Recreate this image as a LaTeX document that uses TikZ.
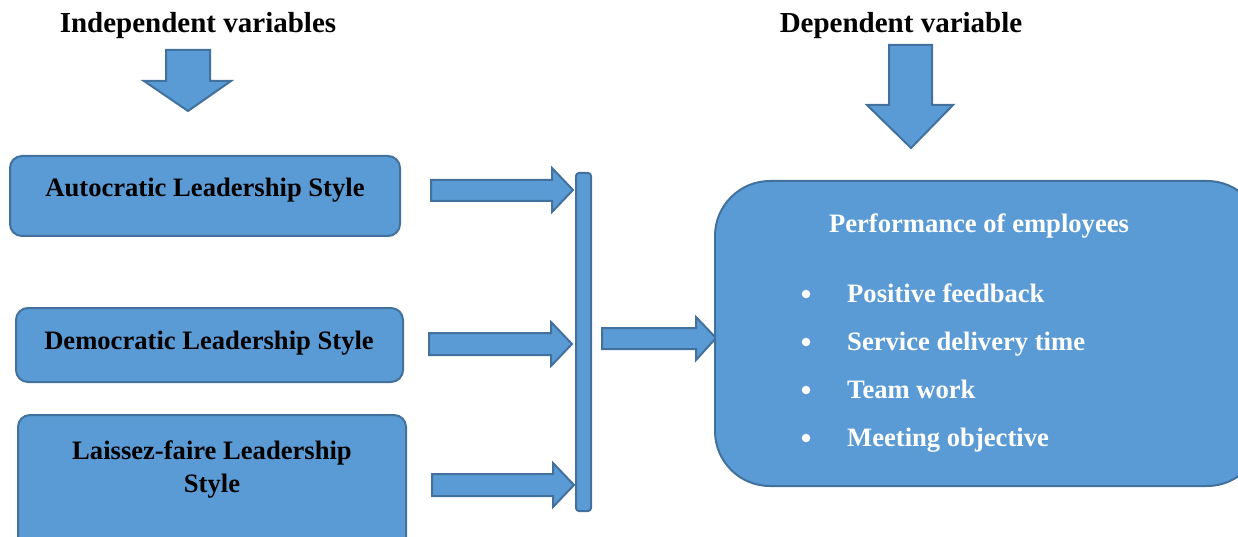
\documentclass[tikz,border=0pt]{standalone}
\usepackage{fontspec}
\setmainfont{Liberation Serif}
\definecolor{boxfill}{HTML}{5B9BD5}
\definecolor{boxline}{HTML}{41719C}
\begin{document}
\begin{tikzpicture}[x=1pt,y=-1pt,
  blk/.style={fill=boxfill,draw=boxline,line width=2pt,line join=miter},
  varbox/.style={fill=boxfill,draw=boxline,line width=2pt,rounded corners=12pt},
  lbl/.style={font=\fontsize{26.6}{33}\selectfont\bfseries,inner sep=0pt,align=center,anchor=base},
  head/.style={lbl,font=\fontsize{29}{33}\selectfont\bfseries},
  wlbl/.style={lbl,text=white},
  dot/.style={circle,fill=white,inner sep=0pt,minimum size=8.5pt}]
\clip (0,0) rectangle (1238,537);
\fill[white] (0,0) rectangle (1238,537);

% headings
\node[head] (indep) at (198,33) {Independent variables};
\node[head] (dep) at (901,33) {Dependent variable};

% downward block arrows under the headings
\draw[blk] (166,50) -- (210,50) -- (210,81) -- (231,81) -- (188,111) -- (144,81) -- (166,81) -- cycle;
\draw[blk] (889,45) -- (932,45) -- (932,105) -- (953,105) -- (911,148) -- (867,105) -- (889,105) -- cycle;

% independent variable boxes
\draw[varbox] (10,156) rectangle (400,236);
\node[lbl] (auto) at (205,197) {Autocratic Leadership Style};
\draw[varbox] (16,308) rectangle (403,382);
\node[lbl] (demo) at (209,349) {Democratic Leadership Style};
\draw[varbox] (18,415) rectangle (406,560);
\node[lbl] (lais) at (212,492) {Laissez-faire Leadership\\Style};

% arrows into the collecting bar
\draw[blk] (431,180) -- (552,180) -- (552,168) -- (573,190) -- (552,212) -- (552,201) -- (431,201) -- cycle;
\draw[blk] (429,333) -- (551,333) -- (551,322) -- (572,344) -- (551,366) -- (551,355) -- (429,355) -- cycle;
\draw[blk] (432,474) -- (553,474) -- (553,463) -- (574,485) -- (553,507) -- (553,496) -- (432,496) -- cycle;

% collecting bar
\draw[blk,rounded corners=3pt] (576,173) rectangle (591,511);

% arrow to the dependent variable
\draw[blk] (602,328) -- (696,328) -- (696,317) -- (716,338) -- (696,360) -- (696,349) -- (602,349) -- cycle;

% dependent variable box
\draw[varbox,rounded corners=55pt] (715,181) rectangle (1262,486);
\node[wlbl] (perf) at (979,233) {Performance of employees};
\foreach \y/\t [count=\i] in {302/Positive feedback,350/Service delivery time,398/Team work,446/Meeting objective}{
  \node[dot] (b\i) at (806,\y-8) {};
  \node[wlbl,anchor=base west] (item\i) at (847,\y) {\t};
}
\end{tikzpicture}
\end{document}
